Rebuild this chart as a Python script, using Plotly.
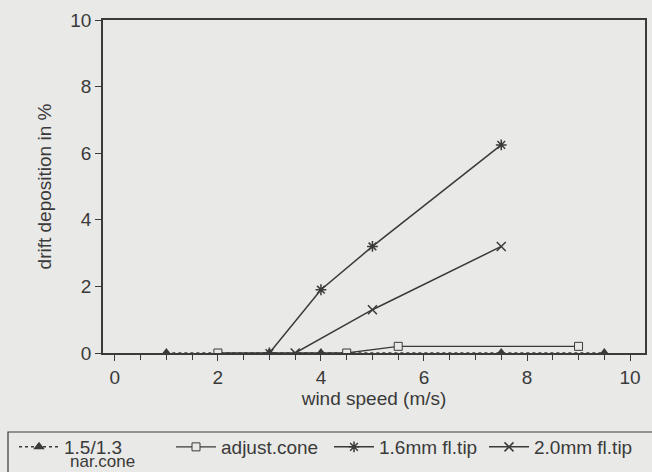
import plotly.graph_objects as go

# data
nar_x = [1, 3, 4, 7.5, 9.5]
nar_y = [0, 0, 0, 0, 0]
adj_x = [2, 4.5, 5.5, 9]
adj_y = [0, 0, 0.2, 0.2]
tip16_x = [3, 4, 5, 7.5]
tip16_y = [0, 1.9, 3.2, 6.25]
tip20_x = [3.5, 5, 7.5]
tip20_y = [0, 1.3, 3.2]

ink = "#3a3a3a"
bg = "#e9e9e7"
font = "Liberation Sans, Arial, sans-serif"
fs = 19

fig = go.Figure()
fig.add_trace(go.Scatter(x=nar_x, y=nar_y, name="1.5/1.3", mode="lines+markers",
                         legend="legend",
                         line=dict(color=ink, width=1.5, dash="dot"),
                         marker=dict(symbol="triangle-up", size=10, color=ink)))
fig.add_trace(go.Scatter(x=adj_x, y=adj_y, name="adjust.cone", mode="lines+markers",
                         legend="legend2",
                         line=dict(color=ink, width=1.3),
                         marker=dict(symbol="square", size=8, color=bg, line=dict(color=ink, width=1))))
fig.add_trace(go.Scatter(x=tip16_x, y=tip16_y, name="1.6mm fl.tip", mode="lines+markers",
                         legend="legend3",
                         line=dict(color=ink, width=1.5),
                         marker=dict(symbol="asterisk-open", size=9, color=ink, line=dict(color=ink, width=1.5))))
fig.add_trace(go.Scatter(x=tip20_x, y=tip20_y, name="2.0mm fl.tip", mode="lines+markers",
                         legend="legend4",
                         line=dict(color=ink, width=1.5),
                         marker=dict(symbol="x-thin-open", size=9, color=ink, line=dict(color=ink, width=1.5))))

def leg(xpx):
    return dict(orientation="h", x=xpx / 652, xref="container", xanchor="left",
                y=(472 - 428) / 472, yref="container", yanchor="top",
                borderwidth=0, bgcolor="rgba(0,0,0,0)", font=dict(size=fs, family=font, color=ink),
                itemwidth=40, valign="top", tracegroupgap=0)

fig.update_layout(
    width=652, height=472,
    margin=dict(l=103, r=7, t=20, b=119, autoexpand=False),
    paper_bgcolor=bg, plot_bgcolor=bg,
    font=dict(family=font, size=fs, color=ink),
    showlegend=True,
    legend=leg(14), legend2=leg(171), legend3=leg(329), legend4=leg(484),
    shapes=[dict(type="rect", xref="paper", yref="paper",
                 x0=(8 - 103) / 542, x1=(662 - 103) / 542,
                 y0=(353 - 432) / 333, y1=(353 - 490) / 333,
                 line=dict(color=ink, width=1.2), layer="below")],
    annotations=[dict(text="nar.cone", xref="paper", yref="paper",
                      x=(68 - 103) / 542, y=(353 - 461) / 333, xanchor="left", yanchor="middle",
                      showarrow=False, font=dict(size=17, family=font, color=ink))],
    xaxis=dict(range=[-0.23, 10.29], tickvals=[0, 2, 4, 6, 8, 10],
               ticks="outside", ticklen=6, tickcolor=ink, tickwidth=1.2,
               minor=dict(dtick=0.5, tick0=0, ticks="outside", ticklen=5, tickcolor=ink, tickwidth=1),
               showgrid=False, zeroline=False, showline=True, linecolor=ink, linewidth=1.5, mirror=True,
               title=dict(text="wind speed (m/s)", standoff=2, font=dict(size=fs))),
    yaxis=dict(range=[0, 10], tickvals=[0, 2, 4, 6, 8, 10],
               ticks="outside", ticklen=6, tickcolor=ink, tickwidth=1.2,
               showgrid=False, zeroline=False, showline=True, linecolor=ink, linewidth=1.5, mirror=True,
               title=dict(text="drift deposition in %", standoff=14, font=dict(size=fs))),
)

fig.write_html("out.html")
